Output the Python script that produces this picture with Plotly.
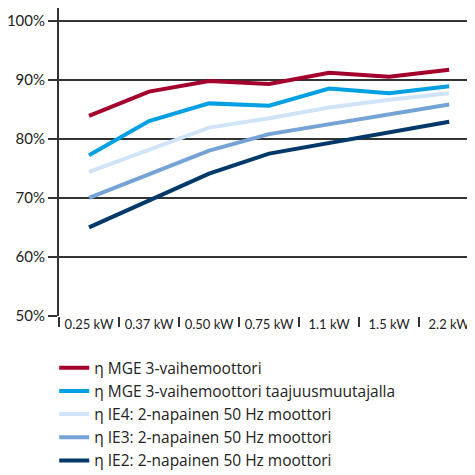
import plotly.graph_objects as go

# motor power classes
powers = ["0.25 kW", "0.37 kW", "0.50 kW", "0.75 kW", "1.1 kW", "1.5 kW", "2.2 kW"]

# efficiencies, %
mge = [83.9, 88.0, 89.8, 89.3, 91.2, 90.5, 91.7]
mge_vfd = [77.2, 83.0, 86.0, 85.6, 88.5, 87.7, 88.9]
ie4 = [74.4, 78.2, 81.9, 83.5, 85.3, 86.6, 87.7]
ie3 = [70.0, 74.0, 78.0, 80.8, 82.5, 84.2, 85.8]
ie2 = [65.0, 69.5, 74.1, 77.5, 79.3, 81.1, 82.9]

names = [
    "η MGE 3-vaihemoottori",
    "η MGE 3-vaihemoottori taajuusmuutajalla",
    "η IE4: 2-napainen 50 Hz moottori",
    "η IE3: 2-napainen 50 Hz moottori",
    "η IE2: 2-napainen 50 Hz moottori",
]
colors = ["#a3002d", "#00a0e2", "#cfe4f6", "#76a3d6", "#00386a"]

fig = go.Figure()
for name, ys, c in zip(names, [mge, mge_vfd, ie4, ie3, ie2], colors):
    fig.add_trace(go.Scatter(x=powers, y=ys, name=name, mode="lines",
                             line=dict(color=c, width=4)))

# page body has an 8px margin, so the figure is 467 square
fig.update_layout(
    width=467, height=467,
    margin=dict(l=51, r=0, t=0, b=159, autoexpand=False),
    plot_bgcolor="white", paper_bgcolor="white",
    font=dict(family="Lato", size=14, color="#222"),
    showlegend=True,
    legend=dict(xref="container", yref="container", x=0.099, y=0.265,
                xanchor="left", yanchor="top",
                font=dict(family="Open Sans", size=15.5), traceorder="normal"),
)
fig.update_yaxes(range=[50, 102.15], dtick=10, ticksuffix="%",
                 showgrid=True, gridcolor="#333", gridwidth=1.5,
                 showline=True, linecolor="#333", linewidth=2,
                 ticks="outside", ticklen=9, tickcolor="#333", tickwidth=1.5,
                 tickfont=dict(size=15), zeroline=False, automargin=False)
fig.update_xaxes(range=[-0.5, 6.43], showgrid=False,
                 showline=False, automargin=False,
                 tickson="boundaries", ticks="outside", ticklen=10,
                 tickcolor="#333", tickwidth=1.5, tickangle=0,
                 ticklabelstandoff=-1,
                 tickfont=dict(size=13))

fig.write_html("out.html")
